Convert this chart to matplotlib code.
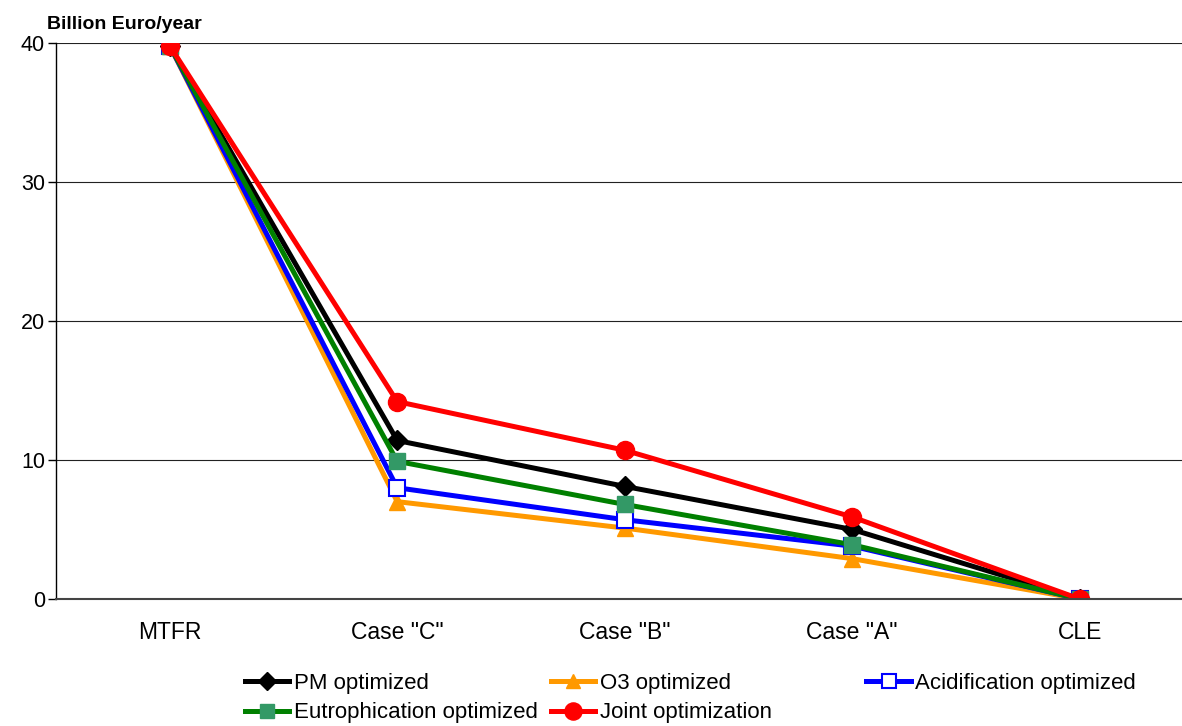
import matplotlib
matplotlib.use('Agg')
import matplotlib.pyplot as plt

# Categories and series values (Billion Euro/year)
cases = ['MTFR', 'Case "C"', 'Case "B"', 'Case "A"', 'CLE']
pm_opt = [39.8, 11.4, 8.1, 5.0, 0.0]
o3_opt = [39.8, 7.0, 5.1, 2.9, 0.0]
acid_opt = [39.8, 8.0, 5.7, 3.8, 0.0]
eutro_opt = [39.8, 9.9, 6.8, 3.9, 0.0]
joint_opt = [39.8, 14.2, 10.7, 5.9, 0.0]

plt.rcParams['font.family'] = ['Liberation Sans', 'DejaVu Sans']

fig = plt.figure(figsize=(11.82, 7.26), dpi=100)
ax = fig.add_axes([0.0474, 0.175, 0.9526, 0.7658])

x = range(len(cases))
lw = 3.6
h_pm, = ax.plot(x, pm_opt, color='black', lw=lw, marker='D', ms=10,
                mfc='black', mec='black', label='PM optimized')
h_o3, = ax.plot(x, o3_opt, color='#FF9900', lw=lw, marker='^', ms=11,
                mfc='#FF9900', mec='#FF9900', label='O3 optimized')
h_ac, = ax.plot(x, acid_opt, color='#0000FF', lw=lw, marker='s', ms=11,
                mfc='white', mec='#0000FF', mew=1.5, label='Acidification optimized')
h_eu, = ax.plot(x, eutro_opt, color='#008000', lw=lw, marker='s', ms=11,
                mfc='#339966', mec='#339966', label='Eutrophication optimized')
h_jo, = ax.plot(x, joint_opt, color='#FF0000', lw=lw, marker='o', ms=13,
                mfc='#FF0000', mec='#FF0000', label='Joint optimization')

ax.set_xlim(-0.5, 4.45)
ax.set_ylim(0, 40)
ax.set_yticks([0, 10, 20, 30, 40])
ax.set_xticks(list(x))
ax.set_xticklabels(cases)
ax.tick_params(axis='x', length=0, pad=16, labelsize=16.5)
ax.tick_params(axis='y', length=6, width=1, direction='out', labelsize=15.5, pad=2)
ax.grid(axis='y', color='#222222', lw=0.8)
ax.set_axisbelow(True)
for s in ['top', 'right']:
    ax.spines[s].set_visible(False)
ax.spines['left'].set_linewidth(1)
ax.spines['bottom'].set_color('#444444')
ax.spines['bottom'].set_linewidth(1.5)

fig.text(0.040, 0.966, 'Billion Euro/year', fontsize=14, fontweight='bold',
         ha='left', va='center')

# legend laid out in three fixed columns
cols = [([h_pm, h_eu], 0.207), ([h_o3, h_jo], 0.466), ([h_ac], 0.733)]
for handles, xpos in cols:
    leg = fig.legend(handles=handles, loc='upper left', bbox_to_anchor=(xpos, 0.073),
                     frameon=False, fontsize=16, handlelength=2.0, handletextpad=0.2,
                     labelspacing=0.38, borderaxespad=0, borderpad=0, markerscale=0.95)

fig.savefig('out.png', dpi=100)
